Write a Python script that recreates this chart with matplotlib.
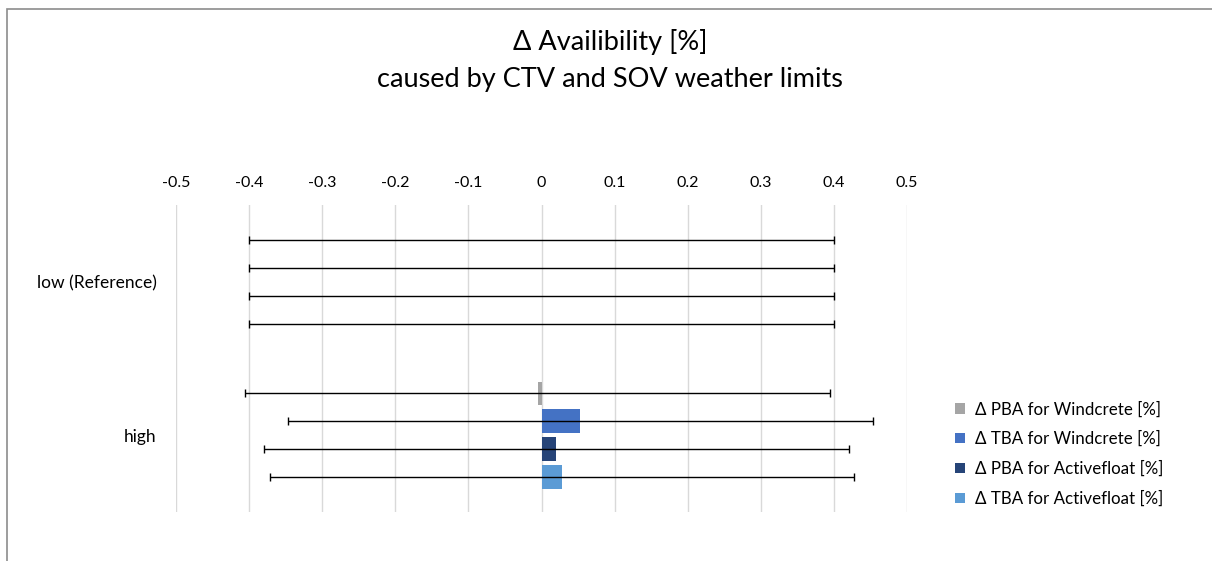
import matplotlib
matplotlib.use("Agg")
import matplotlib.pyplot as plt
import numpy as np
from matplotlib.patches import Rectangle

plt.rcParams['font.family'] = ['Lato', 'DejaVu Sans']

categories = ["low (Reference)", "high"]
series_names = ["Δ PBA for Windcrete [%]", "Δ TBA for Windcrete [%]",
                "Δ PBA for Activefloat [%]", "Δ TBA for Activefloat [%]"]
pba_windcrete = [0.0, -0.005]
tba_windcrete = [0.0, 0.053]
pba_activefloat = [0.0, 0.020]
tba_activefloat = [0.0, 0.028]
error_width = [0.4, 0.4]
x_ticks = [-0.5, -0.4, -0.3, -0.2, -0.1, 0, 0.1, 0.2, 0.3, 0.4, 0.5]
x_tick_labels = ["-0.5", "-0.4", "-0.3", "-0.2", "-0.1", "0", "0.1", "0.2", "0.3", "0.4", "0.5"]
colors = ["#A5A5A5", "#4472C4", "#264478", "#5B9BD5"]

W, H = 1212, 561
fig = plt.figure(figsize=(W / 100, H / 100), dpi=100)
fig.patches.append(Rectangle((7 / W, -0.1), 1.2, 1 - 9 / H + 0.1, transform=fig.transFigure,
                             fill=False, edgecolor="#8C8C8C", linewidth=1.2, zorder=0))

ax = fig.add_axes([176 / W, 1 - 512 / H, (907 - 176) / W, (512 - 205) / H])
all_series = [pba_windcrete, tba_windcrete, pba_activefloat, tba_activefloat]
slot = 0.182
bar_h = 0.154
y = np.arange(len(categories))
for i, (vals, name, c) in enumerate(zip(all_series, series_names, colors)):
    pos = y + (i - 1.5) * slot
    ax.barh(pos, vals, height=bar_h, color=c, label=name, zorder=2)
    ax.errorbar(vals, pos, xerr=error_width, fmt="none", ecolor="black",
                elinewidth=1.0, capsize=3.0, capthick=1.0, zorder=3)

ax.set_xlim(-0.5, 0.5)
ax.set_ylim(1.5, -0.5)
ax.xaxis.tick_top()
ax.set_xticks(x_ticks)
ax.set_xticklabels(x_tick_labels)
ax.set_yticks(y)
ax.set_yticklabels(categories)
ax.tick_params(axis="x", length=0, pad=11, labelsize=11.5, colors="#000000")
ax.tick_params(axis="y", length=0, pad=14, labelsize=12.5)
ax.grid(axis="x", color="#D9D9D9", linewidth=1)
ax.set_axisbelow(True)
for s in ax.spines.values():
    s.set_visible(False)

fig.text(610 / W, 1 - 42 / H, "Δ Availibility [%]", ha="center", va="center", fontsize=19.5)
fig.text(610 / W, 1 - 79 / H, "caused by CTV and SOV weather limits", ha="center", va="center", fontsize=19.5)

leg = fig.legend(loc="upper left", bbox_to_anchor=(940 / W, 1 - 386 / H), frameon=False,
                 fontsize=12.2, handlelength=0.55, handleheight=0.55, handletextpad=0.6,
                 labelspacing=0.8)

fig.savefig("out.png", dpi=100)
